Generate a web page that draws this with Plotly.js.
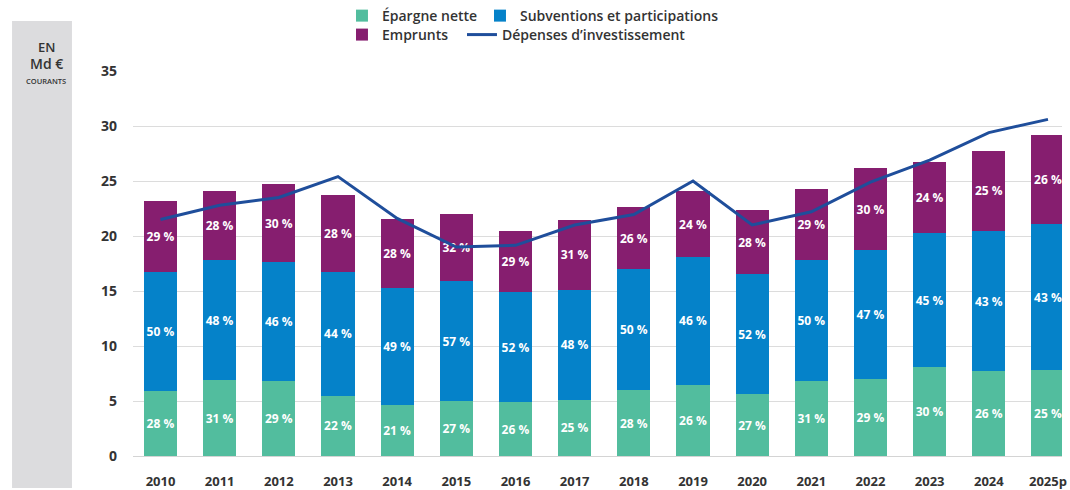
<!DOCTYPE html>
<html>
<head>
<meta charset="utf-8">
<script src="https://cdn.plot.ly/plotly-3.0.1.min.js"></script>
<style>html,body{margin:0;padding:0;background:#fff;}#chart{width:1070px;height:490px;}</style>
</head>
<body>
<div id="chart"></div>
<script>
const years = ['2010','2011','2012','2013','2014','2015','2016','2017','2018','2019','2020','2021','2022','2023','2024','2025p'];
const epargne = [5.9, 6.9, 6.8, 5.5, 4.6, 5.0, 4.9, 5.1, 6.0, 6.5, 5.6, 6.8, 7.0, 8.1, 7.7, 7.8];
const subventions = [10.85, 10.9, 10.85, 11.2, 10.7, 10.9, 10.0, 10.0, 11.0, 11.55, 10.95, 11.0, 11.7, 12.15, 12.75, 13.3];
const emprunts = [6.4, 6.3, 7.05, 7.05, 6.25, 6.1, 5.6, 6.4, 5.6, 6.0, 5.8, 6.45, 7.45, 6.5, 7.3, 8.05];
const depenses = [21.5, 22.8, 23.5, 25.4, 21.6, 19.0, 19.15, 21.0, 21.95, 25.0, 21.0, 22.2, 24.9, 26.9, 29.4, 30.6];
const pctEpargne = ['28 %','31 %','29 %','22 %','21 %','27 %','26 %','25 %','28 %','26 %','27 %','31 %','29 %','30 %','26 %','25 %'];
const pctSubventions = ['50 %','48 %','46 %','44 %','49 %','57 %','52 %','48 %','50 %','46 %','52 %','50 %','47 %','45 %','43 %','43 %'];
const pctEmprunts = ['29 %','28 %','30 %','28 %','28 %','32 %','29 %','31 %','26 %','24 %','28 %','29 %','30 %','24 %','25 %','26 %'];

const FONT = 'Open Sans, Lato, sans-serif';
const barText = {color: '#ffffff', size: 12, family: FONT, weight: 700};
function barTrace(name, y, text, color, legend, lw) {
  return {
    type: 'bar', name: name, x: years, y: y, text: text,
    textposition: 'inside', insidetextanchor: 'middle', textangle: 0,
    constraintext: 'none', textfont: barText,
    marker: {color: color, line: {width: 0}},
    hoverinfo: 'skip', legend: legend, legendwidth: lw
  };
}
const data = [
  barTrace('Épargne nette', epargne, pctEpargne, '#52bd9e', 'legend', 93),
  barTrace('Subventions et participations', subventions, pctSubventions, '#0582c9', 'legend', 220),
  barTrace('Emprunts', emprunts, pctEmprunts, '#861e6f', 'legend2', 75),
  {type: 'scatter', mode: 'lines', name: 'Dépenses d\u2019investissement', x: years, y: depenses,
   line: {color: '#1f4e9b', width: 3}, hoverinfo: 'skip', legend: 'legend2', legendwidth: 200}
];
const legFont = {family: FONT, size: 14, color: '#333333', weight: 600};
const layout = {
  width: 1070, height: 490,
  margin: {l: 133, r: 8, t: 71, b: 34},
  paper_bgcolor: '#ffffff', plot_bgcolor: '#ffffff',
  barmode: 'stack', bargap: 0.44,
  font: {family: FONT, color: '#333333'},
  xaxis: {type: 'category', range: [-0.465, 15.237], showgrid: false, zeroline: false,
          showline: false, ticks: '', ticklabelstandoff: 16,
          tickfont: {family: FONT, size: 13, color: '#333333', weight: 700}},
  yaxis: {range: [0, 35], dtick: 5, showgrid: true, gridcolor: '#dcdcdc', gridwidth: 1,
          zeroline: true, zerolinecolor: '#d4d4d4', zerolinewidth: 1, showline: false,
          ticks: '', ticklabelstandoff: 15,
          tickfont: {family: FONT, size: 14, color: '#333333', weight: 700}},
  legend: {orientation: 'h', xref: 'container', yref: 'container', x: 0.3196, y: 0.9673,
           xanchor: 'left', yanchor: 'middle', traceorder: 'normal', font: legFont,
           bgcolor: 'rgba(0,0,0,0)', itemclick: false, itemdoubleclick: false},
  legend2: {orientation: 'h', xref: 'container', yref: 'container', x: 0.3196, y: 0.9286,
            xanchor: 'left', yanchor: 'middle', traceorder: 'normal', font: legFont,
            bgcolor: 'rgba(0,0,0,0)', itemclick: false, itemdoubleclick: false},
  shapes: [{type: 'rect', xref: 'paper', yref: 'paper', x0: -0.1302, x1: -0.0657,
            y0: -0.0831, y1: 1.1299, fillcolor: '#dcdcde', line: {width: 0}, layer: 'below'}],
  annotations: [
    {xref: 'paper', yref: 'paper', x: -0.0936, y: 1.0623, text: 'EN', showarrow: false,
     xanchor: 'center', yanchor: 'middle', font: {family: FONT, size: 13, color: '#333333', weight: 600}},
    {xref: 'paper', yref: 'paper', x: -0.0936, y: 1.0182, text: 'Md €', showarrow: false,
     xanchor: 'center', yanchor: 'middle', font: {family: FONT, size: 14, color: '#333333', weight: 600}},
    {xref: 'paper', yref: 'paper', x: -0.0936, y: 0.974, text: 'COURANTS', showarrow: false,
     xanchor: 'center', yanchor: 'middle', font: {family: FONT, size: 7.5, color: '#333333', weight: 600}}
  ]
};
Plotly.newPlot('chart', data, layout, {displayModeBar: false, staticPlot: true});
</script>
</body>
</html>
